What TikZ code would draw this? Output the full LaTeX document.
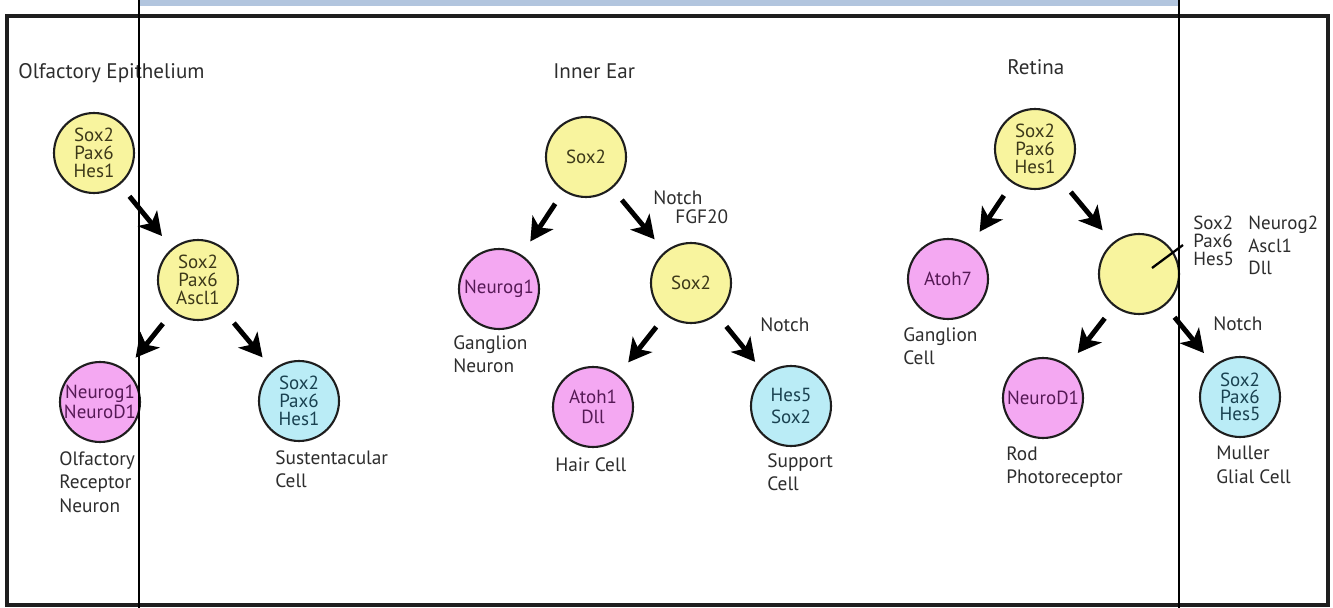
\documentclass[tikz,border=0pt]{standalone}
\usepackage{fontspec}
\setmainfont{PT Sans}
\usetikzlibrary{arrows.meta}
\definecolor{cyel}{RGB}{248,244,158}
\definecolor{cpnk}{RGB}{244,168,242}
\definecolor{cblu}{RGB}{186,236,246}
\definecolor{tyel}{RGB}{60,56,25}
\definecolor{tpnk}{RGB}{85,25,85}
\definecolor{tblu}{RGB}{25,65,80}
\definecolor{tgray}{RGB}{45,45,45}
\definecolor{barblue}{RGB}{178,197,222}
\definecolor{edgec}{RGB}{30,30,30}
\begin{document}
\begin{tikzpicture}[x=0.02cm,y=-0.02cm,
  cell/.style={circle, draw=edgec, line width=1.2pt, minimum size=1.6cm, inner sep=0pt, align=center, font=\fontsize{10.8}{10.2}\selectfont},
  yel/.style={cell, fill=cyel, text=tyel},
  pnk/.style={cell, fill=cpnk, text=tpnk},
  blu/.style={cell, fill=cblu, text=tblu},
  lbl/.style={anchor=north west, inner sep=0pt, align=left, text=tgray, font=\fontsize{11}{13.5}\selectfont},
  ttl/.style={lbl, font=\fontsize{12}{13}\selectfont},
  arr/.style={-{Stealth[length=13pt,width=14pt,inset=3.5pt]}, line width=2.8pt, shorten <=8.5pt, shorten >=9pt}]
\useasboundingbox (0,0) rectangle (1333,608);
\fill[white] (0,0) rectangle (1333,608);
% top bar and frame
\fill[barblue] (140,0) rectangle (1178,6);
\draw[edgec, line width=1.8pt] (7,16) rectangle (1328,605);
% titles
\node[ttl] (t1) at (18,63) {Olfactory Epithelium};
\node[ttl] (t2) at (553,63) {Inner Ear};
\node[ttl] (t3) at (1007,59) {Retina};
% Olfactory epithelium
\node[yel] (c1) at (94,153) {Sox2\\Pax6\\Hes1};
\node[yel] (c2) at (198,280) {Sox2\\Pax6\\Ascl1};
\node[pnk, font=\fontsize{10.8}{9}\selectfont] (c3) at (100,402) {Neurog1\\NeuroD1};
\node[blu] (c4) at (299,401) {Sox2\\Pax6\\Hes1};
\node[lbl] (l3) at (59,451) {Olfactory\\Receptor\\Neuron};
\node[lbl] (l4) at (275,450) {Sustentacular\\Cell};
\draw[arr] (c1) -- (c2);
\draw[arr] (c2) -- (c3);
\draw[arr] (c2) -- (c4);
% Inner ear
\node[yel] (c5) at (586,157) {Sox2};
\node[yel] (c6) at (691,283) {Sox2};
\node[pnk] (c7) at (499,289) {Neurog1};
\node[pnk, font=\fontsize{10.8}{11.5}\selectfont] (c8) at (593,407) {Atoh1\\Dll};
\node[blu, font=\fontsize{10.8}{13}\selectfont] (c9) at (791,406) {Hes5\\Sox2};
\node[lbl] (l7) at (453,335) {Ganglion\\Neuron};
\node[lbl] (l8) at (555,457) {Hair Cell};
\node[lbl] (l9) at (767,453) {Support\\Cell};
\node[lbl] (n1) at (653,190) {Notch};
\node[lbl] (n2) at (675,209) {FGF20};
\node[lbl] (n3) at (760,317) {Notch};
\draw[arr] (c5) -- (c7);
\draw[arr] (c5) -- (c6);
\draw[arr] (c6) -- (c8);
\draw[arr] (c6) -- (c9);
% Retina
\node[yel] (c10) at (1035,149) {Sox2\\Pax6\\Hes1};
\node[pnk] (c11) at (948,279) {Atoh7};
\node[yel] (c12) at (1139,274) {};
\node[pnk] (c13) at (1043,398) {NeuroD1};
\node[blu, font=\fontsize{10.8}{9.6}\selectfont] (c14) at (1240,397) {Sox2\\Pax6\\Hes5};
\node[lbl] (l11) at (903,327) {Ganglion\\Cell};
\node[lbl] (l13) at (1006,446) {Rod\\Photoreceptor};
\node[lbl] (l14) at (1216,446) {Muller\\Glial Cell};
\node[lbl] (n4) at (1213,316) {Notch};
\node[lbl, font=\fontsize{10.8}{10.2}\selectfont] (g1) at (1193,216) {Sox2\\Pax6\\Hes5};
\node[lbl, font=\fontsize{10.8}{12.8}\selectfont] (g2) at (1248,216) {Neurog2\\Ascl1\\Dll};
\coordinate (p1) at (1152,268);
\coordinate (p2) at (1183,245);
\draw[line width=1.3pt] (p1) -- (p2);
\draw[arr] (c10) -- (c11);
\draw[arr] (c10) -- (c12);
\draw[arr] (c12) -- (c13);
\draw[arr] (c12) -- (c14);
% thin vertical lines
\draw[black, line width=0.7pt] (139,0) -- (139,608);
\draw[black, line width=0.7pt] (1179,0) -- (1179,608);
\end{tikzpicture}
\end{document}
